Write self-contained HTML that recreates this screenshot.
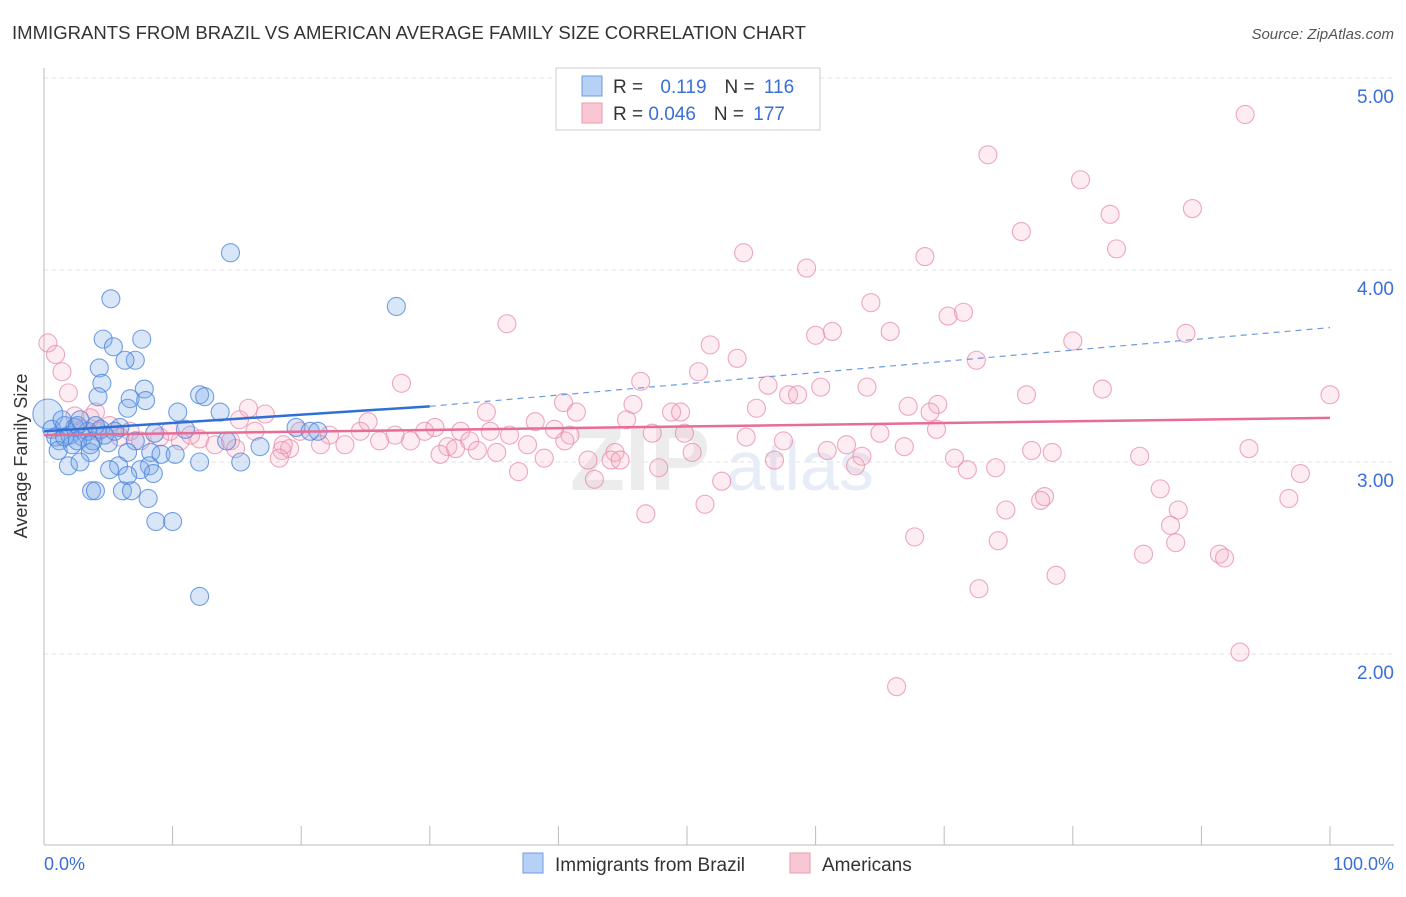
<!DOCTYPE html>
<html><head><meta charset="utf-8"><style>
body{margin:0;background:#fff;font-family:"Liberation Sans",sans-serif;}
</style></head><body>
<svg width="1406" height="892" xmlns="http://www.w3.org/2000/svg" id="chart">
<text x="12" y="39" font-size="18" fill="#333" textLength="794" lengthAdjust="spacingAndGlyphs">IMMIGRANTS FROM BRAZIL VS AMERICAN AVERAGE FAMILY SIZE CORRELATION CHART</text>
<text x="1394" y="39" font-size="15" fill="#555" text-anchor="end" font-style="italic">Source: ZipAtlas.com</text>
<g id="grid"></g>
<text x="640" y="490" font-size="90" fill="#ececec" font-weight="bold" text-anchor="middle">ZIP</text>
<text x="800" y="490" font-size="70" fill="#e6edf7" text-anchor="middle">atlas</text>
<g id="axes"></g>
<g id="pink"></g>
<g id="blue"></g>
<g id="lines"></g>
<text x="27" y="456" font-size="18" fill="#333" text-anchor="middle" transform="rotate(-90 27 456)">Average Family Size</text>
<text x="44" y="870" font-size="18" fill="#3a6fd8">0.0%</text>
<text x="1394" y="870" font-size="18" fill="#3a6fd8" text-anchor="end">100.0%</text>
<g>
<rect x="556" y="68" width="264" height="62" fill="#fff" stroke="#ccc"/>
<rect x="582" y="76" width="20" height="20" fill="#b7d0f5" stroke="#6d9be0"/>
<rect x="582" y="103" width="20" height="20" fill="#f9c6d4" stroke="#eb9ab2"/>
<text x="613" y="93" font-size="19" fill="#333">R = <tspan fill="#3a6fd8" dx="12">0.119</tspan><tspan dx="18" fill="#333">N = </tspan><tspan fill="#3a6fd8" dx="4">116</tspan></text>
<text x="613" y="120" font-size="19" fill="#333">R = <tspan fill="#3a6fd8">0.046</tspan><tspan dx="18" fill="#333">N = </tspan><tspan fill="#3a6fd8" dx="4">177</tspan></text>
</g>
<g>
<rect x="523" y="853" width="20" height="20" fill="#b7d0f5" stroke="#6d9be0"/>
<text x="555" y="871" font-size="19" fill="#333">Immigrants from Brazil</text>
<rect x="790" y="853" width="20" height="20" fill="#f9c6d4" stroke="#eb9ab2"/>
<text x="822" y="871" font-size="19" fill="#333">Americans</text>
</g>
</svg>
<script>
const yTicks=[2,3,4,5];
const yTickLabels=["2.00","3.00","4.00","5.00"];
const blueX=[14.5,5.2,27.4,4.6,7.6,5.4,7.1,6.3,4.3,4.5,7.8,4.2,6.7,7.9,12.1,12.5,6.5,10.4,13.7,5.9,11,19.6,20.7,21.3,14.2,16.8,8.6,5,7.1,8.3,9.1,10.2,6.5,3.6,1.9,2.8,5.8,8.2,12.1,15.3,5.1,7.5,8.5,6.5,3.7,4.0,6.1,6.8,8.1,8.7,10,12.1,0.3,0.6,0.9,1.2,1.6,2,2.4,3,3.4,3.8,1.1,2.2,2.6,4.4,4.7,5.5,1.6,2.6,3.6,1.4,2.8,4];
const blueY=[4.09,3.85,3.81,3.64,3.64,3.6,3.53,3.53,3.49,3.41,3.38,3.34,3.33,3.32,3.35,3.34,3.28,3.26,3.26,3.18,3.17,3.18,3.16,3.16,3.11,3.08,3.15,3.1,3.11,3.05,3.04,3.04,3.05,3.05,2.98,3.0,2.98,2.98,3.0,3.0,2.96,2.96,2.94,2.93,2.85,2.85,2.85,2.85,2.81,2.69,2.69,2.3,3.25,3.17,3.13,3.11,3.19,3.14,3.18,3.13,3.16,3.11,3.06,3.09,3.19,3.17,3.14,3.16,3.13,3.11,3.09,3.22,3.22,3.19];
const pinkX=[93.4,73.4,80.6,82.9,89.3,76,54.4,68.5,83.4,59.3,64.3,36,70.3,71.5,65.8,61.3,60,88.8,51.8,80,53.9,72.5,50.9,46.4,27.8,56.3,60.4,64,82.3,57.9,58.6,76.4,100,40.4,45.8,55.4,67.2,69.5,41.4,34.4,48.8,49.5,68.9,25.2,45.3,69.4,65,47.3,49.8,54.6,57.5,62.4,66.9,50.4,60.9,63.6,70.8,76.8,78.4,85.2,93.7,44.4,42.3,44.1,44.8,56.8,47.8,63.1,71.8,74,97.7,42.8,52.7,36.9,86.8,77.8,77.5,96.8,74.8,88.2,46.8,51.4,87.6,67.7,74.2,88,85.5,91.4,91.8,78.7,72.7,93,66.3,0.3,0.9,1.4,1.9,2.4,4,3.6,15.9,17.2,5.1,6.7,9,10.6,12.1,13.3,14.9,16.4,18.5,19.1,19.9,22.2,23.4,24.6,26.1,27.3,28.5,29.6,30.4,31.4,32.4,33.1,34.7,36.2,37.6,38.2,38.9,39.7,40.9,33.7,30.8,32,35.2,40.5,18.6,21.5,7.5,5.9,9.8,11.4,14.5,15.2,4.2,3,18.3];
const pinkY=[4.81,4.6,4.47,4.29,4.32,4.2,4.09,4.07,4.11,4.01,3.83,3.72,3.76,3.78,3.68,3.68,3.66,3.67,3.61,3.63,3.54,3.53,3.47,3.42,3.41,3.4,3.39,3.39,3.38,3.35,3.35,3.35,3.35,3.31,3.3,3.28,3.29,3.3,3.26,3.26,3.26,3.26,3.26,3.21,3.22,3.17,3.15,3.15,3.15,3.13,3.11,3.09,3.08,3.05,3.06,3.03,3.02,3.06,3.05,3.03,3.07,3.05,3.01,3.01,3.01,3.01,2.97,2.98,2.96,2.97,2.94,2.91,2.9,2.95,2.86,2.82,2.8,2.81,2.75,2.75,2.73,2.78,2.67,2.61,2.59,2.58,2.52,2.52,2.5,2.41,2.34,2.01,1.83,3.62,3.56,3.47,3.36,3.24,3.26,3.23,3.28,3.25,3.19,3.16,3.13,3.11,3.12,3.09,3.07,3.16,3.06,3.07,3.16,3.14,3.09,3.16,3.11,3.14,3.11,3.16,3.18,3.08,3.16,3.11,3.16,3.14,3.09,3.21,3.02,3.17,3.14,3.06,3.04,3.07,3.05,3.11,3.09,3.09,3.11,3.13,3.16,3.14,3.11,3.22,3.16,3.17,3.02];
const blueTrend=[3.16,3.29,3.70];
const pinkTrend=[3.14,3.23];

const NS="http://www.w3.org/2000/svg";
const xs=p=>44+p*12.86;
const ys=v=>78+(5-v)*192;
function mk(tag,attrs,parent){const e=document.createElementNS(NS,tag);for(const k in attrs)e.setAttribute(k,attrs[k]);parent.appendChild(e);return e;}
const grid=document.getElementById('grid');
yTicks.forEach((t,i)=>{
 const l=mk('line',{x1:44,x2:1394,y1:ys(t),y2:ys(t),stroke:'#e2e2e2','stroke-dasharray':'4 4'},grid);
 
 
 const tx=mk('text',{x:1394,y:ys(t)+25,'font-size':19,fill:'#3a6fd8','text-anchor':'end'},grid);
 tx.textContent=yTickLabels[i];
 
 
});
const axes=document.getElementById('axes');
const ya=mk('line',{x1:44,x2:44,y1:68,y2:845,stroke:'#bbb'},axes);


const xa=mk('line',{x1:44,x2:1394,y1:845,y2:845,stroke:'#bbb'},axes);


for(let i=0;i<=10;i++){
 const t=mk('line',{x1:xs(i*10),x2:xs(i*10),y1:826,y2:845,stroke:'#bbb'},axes);
 
 
}
const pg=document.getElementById('pink');
pinkX.forEach((x,i)=>{
 const c=mk('circle',{cx:xs(x),cy:ys(pinkY[i]),r:9,fill:'rgba(244,170,192,0.22)',stroke:'rgba(230,140,170,0.75)','stroke-width':1.1},pg);
 
 
});
const bg=document.getElementById('blue');
blueX.forEach((x,i)=>{
 const c=mk('circle',{cx:xs(x),cy:ys(blueY[i]),r:i==52?15:9,fill:'rgba(120,165,230,0.28)',stroke:'rgba(70,130,220,0.75)','stroke-width':1.1},bg);
 
 
});
const lg=document.getElementById('lines');
const b1=mk('line',{x1:xs(0),y1:ys(blueTrend[0]),x2:xs(30),y2:ys(blueTrend[1]),stroke:'#2f6fd6','stroke-width':2.5},lg);


const b2=mk('line',{x1:xs(30),y1:ys(blueTrend[1]),x2:xs(100),y2:ys(blueTrend[2]),stroke:'#6d9be0','stroke-width':1.2,'stroke-dasharray':'6 5'},lg);


const p1=mk('line',{x1:xs(0),y1:ys(pinkTrend[0]),x2:xs(100),y2:ys(pinkTrend[1]),stroke:'#e86c98','stroke-width':2.5},lg);


</script>
</body></html>
